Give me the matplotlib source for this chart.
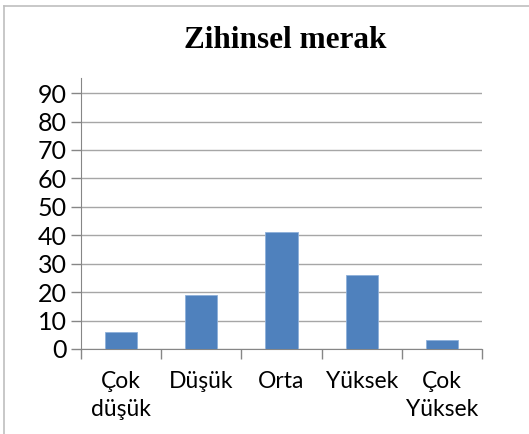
import matplotlib.pyplot as plt
from matplotlib.lines import Line2D

categories = ["Çok\ndüşük", "Düşük", "Orta", "Yüksek", "Çok\nYüksek"]
values = [6, 19, 41, 26, 3]
yticks = [0, 10, 20, 30, 40, 50, 60, 70, 80, 90]

fig = plt.figure(figsize=(5.29, 4.34), dpi=100)
ax = fig.add_axes([81 / 529, 1 - 349 / 434, 401 / 529, 271 / 434])

x = range(len(values))
ax.bar(x, values, width=0.4, color="#4F81BD", edgecolor="#8DB0DA", linewidth=0.6, zorder=3)

ax.set_xlim(-0.5, len(values) - 0.5)
ax.set_ylim(0, 95.3)
ax.set_yticks(yticks)
ax.set_yticklabels([str(v) for v in yticks], fontsize=18, family="Lato")
ax.yaxis.grid(True, color="#A6A6A6", linewidth=1.0, zorder=0)

ax.set_xticks(list(x))
ax.set_xticklabels(categories, fontsize=16.5, family="Lato", linespacing=1.4)
ax.set_xticks([i - 0.5 for i in range(len(values) + 1)], minor=True)
ax.tick_params(axis="x", which="major", length=0, pad=16)
ax.tick_params(axis="x", which="minor", length=7, width=1, color="#868686", direction="out")
ax.tick_params(axis="y", length=7, width=1, color="#868686", pad=3)

for s in ["top", "right"]:
    ax.spines[s].set_visible(False)
ax.spines["left"].set_color("#868686")
ax.spines["bottom"].set_color("#868686")

fig.text(285 / 529, 1 - 41 / 434, "Zihinsel merak", ha="center", va="center",
         fontsize=22.5, fontweight="bold", family="Liberation Serif")

# outer chart frame (only top and left visible)
fig.add_artist(Line2D([4 / 529, 1], [1 - 6 / 434] * 2, color="#BFBFBF", linewidth=1.2))
fig.add_artist(Line2D([4 / 529] * 2, [0, 1 - 6 / 434], color="#BFBFBF", linewidth=1.2))

fig.savefig("out.png", dpi=100)
